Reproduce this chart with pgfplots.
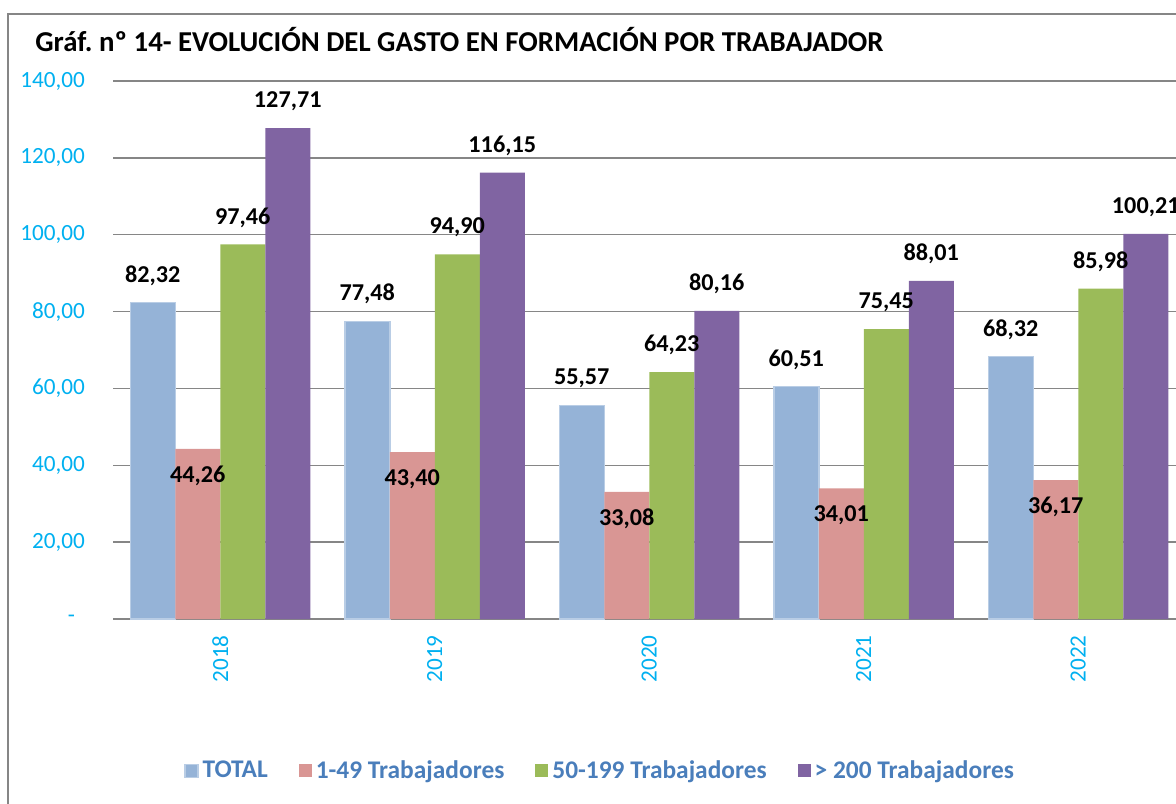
\documentclass[border=0pt]{standalone}
\usepackage{pgfplots}
\pgfplotsset{compat=1.18}
\usepackage{fontspec}
\setmainfont{Carlito}
\definecolor{cTot}{HTML}{95B3D7}
\definecolor{cTotE}{HTML}{B9CDE5}
\definecolor{cS}{HTML}{D99694}
\definecolor{cM}{HTML}{9BBB59}
\definecolor{cL}{HTML}{8064A2}
\definecolor{cAx}{HTML}{00B0F0}
\definecolor{cLeg}{HTML}{4A7EBB}
\definecolor{cGrid}{HTML}{868686}
\newcommand\fs{\fontsize{11.6}{13}\selectfont}
\newcommand\fl{\fontsize{12.1}{14}\selectfont}
\begin{document}
\begin{tikzpicture}
\draw[cGrid, line width=0.8pt] (4pt,-10pt) rectangle (600pt,394.5pt);
\node[anchor=base west, font=\fontsize{14.4}{16}\selectfont\bfseries, inner sep=0pt] at (17.5pt,375.5pt)
  {Gráf.\ nº 14- EVOLUCIÓN DEL GASTO EN FORMACIÓN POR TRABAJADOR};
\begin{axis}[
  at={(56.5pt,92pt)}, anchor=south west,
  scale only axis, width=536.25pt, height=269pt,
  xmin=-0.5, xmax=4.5, ymin=0, ymax=140,
  axis line style={draw=none},
  major tick length=0pt,
  xtick={0,1,2,3,4},
  xticklabels={2018,2019,2020,2021,2022},
  xticklabel style={rotate=90, anchor=east, inner xsep=8pt, font=\fs, text=cAx},
  ytick={0,20,40,60,80,100,120,140},
  yticklabels={{-\rule{5pt}{0pt}},{20,00},{40,00},{60,00},{80,00},{100,00},{120,00},{140,00}},
  yticklabel style={anchor=east, xshift=-10.5pt, font=\fs, text=cAx},
  ymajorgrids,
  grid style={cGrid, line width=0.75pt},
  bar width=22.5pt,
  /pgf/number format/.cd, fixed, fixed zerofill, precision=2, use comma, 1000 sep={}, assume math mode=true,
  /pgfplots/.cd,
  every node near coord/.style={anchor=center, font=\fl\bfseries, text=black, inner sep=0pt},
  legend columns=4,
  legend style={at={(0.455,-0.2825)}, anchor=center, draw=none, fill=none,
    font=\fontsize{12.7}{14}\selectfont\bfseries, text=cLeg,
    /tikz/every even column/.append style={column sep=13.5pt},
    /tikz/every odd column/.append style={column sep=0pt}},
  legend image code/.code={\path[#1] (0pt,-3.25pt) rectangle (6.5pt,3.25pt);},
]
\addplot[ybar, bar shift=-33.75pt, fill=cTot, draw=cTotE, line width=0.75pt]
  coordinates {(0,82.32) (1,77.48) (2,55.57) (3,60.51) (4,68.32)};
\addplot[ybar, bar shift=-11.25pt, fill=cS, draw=none]
  coordinates {(0,44.26) (1,43.40) (2,33.08) (3,34.01) (4,36.17)};
\addplot[ybar, bar shift=11.25pt, fill=cM, draw=none]
  coordinates {(0,97.46) (1,94.90) (2,64.23) (3,75.45) (4,85.98)};
\addplot[ybar, bar shift=33.75pt, fill=cL, draw=none]
  coordinates {(0,127.71) (1,116.15) (2,80.16) (3,88.01) (4,100.21)};
\legend{TOTAL,1-49 Trabajadores,50-199 Trabajadores,> 200 Trabajadores}
% value labels, drawn after all bars
\addplot[only marks, mark=none, forget plot,
  nodes near coords, every node near coord/.append style={xshift=-33.75pt, yshift=13.5pt}]
  coordinates {(0,82.32) (1,77.48) (2,55.57) (3,60.51) (4,68.32)};
\addplot[only marks, mark=none, forget plot,
  nodes near coords, every node near coord/.append style={xshift=-11.25pt, yshift=-13.5pt}]
  coordinates {(0,44.26) (1,43.40) (2,33.08) (3,34.01) (4,36.17)};
\addplot[only marks, mark=none, forget plot,
  nodes near coords, every node near coord/.append style={xshift=11.25pt, yshift=13.5pt}]
  coordinates {(0,97.46) (1,94.90) (2,64.23) (3,75.45) (4,85.98)};
\addplot[only marks, mark=none, forget plot,
  nodes near coords, every node near coord/.append style={xshift=33.75pt, yshift=13.5pt}]
  coordinates {(0,127.71) (1,116.15) (2,80.16) (3,88.01) (4,100.21)};
\end{axis}
\pgfresetboundingbox
\path[use as bounding box] (0,0) rectangle (588pt,401.5pt);
\end{tikzpicture}
\end{document}
